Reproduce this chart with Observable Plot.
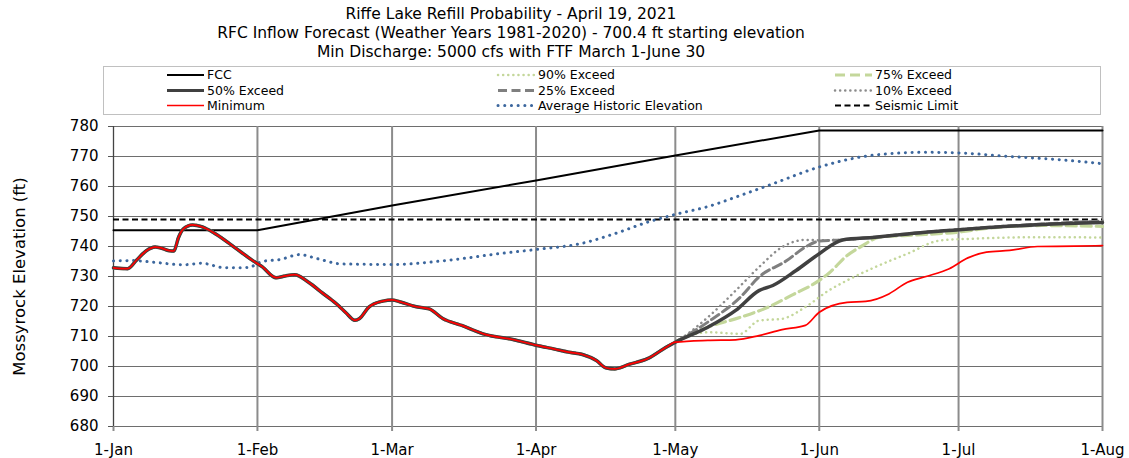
<!DOCTYPE html>
<html><head><meta charset="utf-8">
<script src="https://cdn.jsdelivr.net/npm/d3@7"></script>
<script src="https://cdn.jsdelivr.net/npm/@observablehq/plot@0.6"></script>
<style>
body{margin:0;background:#fff;font-family:"DejaVu Sans",Verdana,sans-serif;}
#wrap{position:relative;width:1129px;height:458px;overflow:hidden;background:#fff;}
#title{position:absolute;left:0;top:5px;width:1022px;text-align:center;font-size:15.5px;line-height:19px;color:#000;}
#legend{position:absolute;left:103px;top:66px;}
#chart{position:absolute;left:0;top:116px;}
</style></head><body>
<div id="wrap">
<div id="title"></div>
<svg id="legend" width="998" height="49"></svg>
<div id="chart"></div>
</div>
<script>
// ---------- text ----------
const titleLines = [
  "Riffe Lake Refill Probability - April 19, 2021",
  "RFC Inflow Forecast (Weather Years 1981-2020) - 700.4 ft starting elevation",
  "Min Discharge: 5000 cfs with FTF March 1-June 30"
];
const yAxisTitle = "Mossyrock Elevation (ft)";

// ---------- axes ----------
const xTickDates = ["2020-01-01","2020-02-01","2020-03-01","2020-04-01","2020-05-01","2020-06-01","2020-07-01","2020-08-01"];
const xTickLabels = ["1-Jan","1-Feb","1-Mar","1-Apr","1-May","1-Jun","1-Jul","1-Aug"];
const yTicks = [680,690,700,710,720,730,740,750,760,770,780];

// ---------- data ----------
const seismicLimit = 749;

const fccDates = ["2020-01-01","2020-02-01","2020-03-01","2020-04-01","2020-05-01","2020-06-01","2020-08-01"];
const fccValues = [745.4,745.4,753.7,762.0,770.3,778.7,778.7];

const avgDates = ["2020-01-01","2020-01-05","2020-01-10","2020-01-16","2020-01-20","2020-01-25","2020-01-30","2020-02-02","2020-02-06","2020-02-10","2020-02-14","2020-02-19","2020-03-01","2020-03-13","2020-03-24","2020-04-01","2020-04-11","2020-04-18","2020-04-25","2020-05-01","2020-05-08","2020-05-15","2020-05-22","2020-06-01","2020-06-13","2020-06-24","2020-07-01","2020-07-12","2020-07-23","2020-08-01"];
const avgValues = [735.2,735.3,734.7,733.9,734.4,732.9,733.0,735.0,735.7,737.3,735.9,734.2,734.0,735.4,737.6,739.0,741.1,744.3,748.1,750.7,753.3,757.0,760.9,766.5,770.5,771.4,771.2,770.0,768.9,767.6];

// observed history shared by every forecast trace (Jan 1 - May 1)
const histDates = ["2020-01-01","2020-01-04","2020-01-06","2020-01-08","2020-01-10","2020-01-11","2020-01-13","2020-01-14","2020-01-15","2020-01-16","2020-01-18","2020-01-20","2020-01-23","2020-01-27","2020-01-31","2020-02-02","2020-02-05","2020-02-07","2020-02-09","2020-02-12","2020-02-15","2020-02-18","2020-02-20","2020-02-22","2020-02-23","2020-02-25","2020-02-28","2020-03-01","2020-03-03","2020-03-06","2020-03-09","2020-03-12","2020-03-16","2020-03-21","2020-03-27","2020-04-01","2020-04-05","2020-04-08","2020-04-11","2020-04-14","2020-04-16","2020-04-18","2020-04-21","2020-04-25","2020-04-29"];
const histValues = [732.9,732.6,735.5,738.5,739.8,739.6,738.6,738.5,743.0,745.8,747.2,746.6,744.2,739.8,735.3,733.3,729.6,730.2,730.6,728.1,724.5,720.9,718.0,715.4,716.0,719.8,721.8,722.2,721.4,720.0,719.2,715.9,713.7,710.7,709.0,707.1,705.8,704.8,704.0,702.0,699.6,699.2,700.7,702.6,706.4];

const minDates = ["2020-05-01","2020-05-08","2020-05-14","2020-05-19","2020-05-24","2020-05-29","2020-06-01","2020-06-07","2020-06-11","2020-06-16","2020-06-20","2020-06-24","2020-06-29","2020-07-03","2020-07-07","2020-07-12","2020-07-18","2020-07-26","2020-08-01"];
const minValues = [708.1,708.7,708.9,710.3,712.3,713.7,718.1,721.4,721.7,724.2,728.1,730.0,732.6,736.2,738.1,738.7,740.0,740.1,740.3];

const p90Dates = ["2020-05-01","2020-05-08","2020-05-15","2020-05-19","2020-05-24","2020-05-29","2020-06-03","2020-06-07","2020-06-13","2020-06-20","2020-06-27","2020-07-04","2020-07-19","2020-08-01"];
const p90Values = [708.1,711.4,710.9,715.3,715.9,719.8,725.3,728.7,733.1,737.6,742.0,742.6,743.1,743.0];

const p75Dates = ["2020-05-01","2020-05-08","2020-05-15","2020-05-21","2020-05-26","2020-06-01","2020-06-03","2020-06-07","2020-06-10","2020-06-14","2020-06-20","2020-07-01","2020-07-08","2020-07-19","2020-08-01"];
const p75Values = [708.1,713.1,716.4,719.8,723.7,728.7,731.0,737.0,740.0,743.1,743.7,744.8,746.2,747.0,746.7];

const p50Dates = ["2020-05-01","2020-05-08","2020-05-14","2020-05-19","2020-05-22","2020-05-27","2020-06-01","2020-06-06","2020-06-13","2020-06-20","2020-07-04","2020-07-19","2020-08-01"];
const p50Values = [708.1,713.1,718.7,725.3,727.0,732.0,737.6,742.2,743.1,744.2,745.9,747.3,748.0];

const p25Dates = ["2020-05-01","2020-05-08","2020-05-15","2020-05-19","2020-05-25","2020-05-29","2020-06-01","2020-06-06","2020-06-13","2020-06-20","2020-07-04","2020-07-19","2020-08-01"];
const p25Values = [708.1,714.8,723.1,729.8,735.3,739.8,741.8,742.2,743.1,744.2,746.0,747.5,748.5];

const p10Dates = ["2020-05-01","2020-05-08","2020-05-14","2020-05-19","2020-05-24","2020-05-29","2020-06-01","2020-06-06","2020-06-13","2020-06-20","2020-07-04","2020-07-19","2020-08-01"];
const p10Values = [708.1,716.4,725.3,733.1,739.8,742.2,742.1,742.2,743.1,744.2,746.0,747.5,748.4];

// ---------- build ----------
const parse = d3.utcParse("%Y-%m-%d");
const rows = (dates, vals) => dates.map((d, i) => ({date: parse(d), value: vals[i]}));
const hist = rows(histDates, histValues);
const withHist = (dates, vals) => hist.concat(rows(dates, vals));
const xTicks = xTickDates.map(parse);
const fmtX = d => xTickLabels[xTicks.findIndex(t => +t === +d)];

const styles = {
  fcc:  {stroke: "#000000", strokeWidth: 2},
  p50:  {stroke: "#404040", strokeWidth: 3.5},
  min:  {stroke: "#ff0000", strokeWidth: 1.7},
  p90:  {stroke: "#c4d79b", strokeWidth: 2.5, strokeDasharray: "0.1 5", strokeLinecap: "round"},
  p25:  {stroke: "#7f7f7f", strokeWidth: 3, strokeDasharray: "9 4.5"},
  avg:  {stroke: "#3c679e", strokeWidth: 3, strokeDasharray: "0.1 6.6", strokeLinecap: "round"},
  p75:  {stroke: "#c4d79b", strokeWidth: 3.2, strokeDasharray: "10 5"},
  p10:  {stroke: "#8c8c8c", strokeWidth: 2.5, strokeDasharray: "0.1 5", strokeLinecap: "round"},
  seis: {stroke: "#000000", strokeWidth: 1.8, strokeDasharray: "6 3.5"}
};

// title
document.getElementById("title").innerHTML = titleLines.map(t => `<div>${t}</div>`).join("");

// legend
const legendItems = [
  ["fcc","FCC",0,0],["p50","50% Exceed",0,1],["min","Minimum",0,2],
  ["p90","90% Exceed",1,0],["p25","25% Exceed",1,1],["avg","Average Historic Elevation",1,2],
  ["p75","75% Exceed",2,0],["p10","10% Exceed",2,1],["seis","Seismic Limit",2,2]
];
const colX = [64, 395, 732];
const rowY = [9, 24.5, 39.5];
const lg = d3.select("#legend");
lg.append("rect").attr("x",0.5).attr("y",0.5).attr("width",997).attr("height",48)
  .attr("fill","#fff").attr("stroke","#c0c0c0");
for (const [k, label, c, r] of legendItems) {
  const s = styles[k];
  lg.append("line").attr("x1", colX[c]).attr("x2", colX[c] + 37).attr("y1", rowY[r]).attr("y2", rowY[r])
    .attr("stroke", s.stroke).attr("stroke-width", Math.min(s.strokeWidth, 3))
    .attr("stroke-dasharray", s.strokeDasharray || null).attr("stroke-linecap", s.strokeLinecap || null);
  lg.append("text").attr("x", colX[c] + 40).attr("y", rowY[r]).attr("dy","0.35em")
    .attr("font-size", 12.5).attr("fill","#000").text(label);
}

const line = (data, k, extra = {}) => Plot.line(data, {x: "date", y: "value", ...styles[k], curve: "monotone-x", ...extra});

const chart = Plot.plot({
  width: 1129, height: 342,
  marginTop: 10, marginBottom: 32, marginLeft: 113, marginRight: 27,
  style: {fontFamily: "'DejaVu Sans', Verdana, sans-serif", fontSize: "15px", color: "#000", background: "#fff", overflow: "visible"},
  x: {type: "utc", domain: [xTicks[0], xTicks[xTicks.length - 1]]},
  y: {domain: [680, 780]},
  marks: [
    Plot.gridY(yTicks, {stroke: "#6e6e6e", strokeOpacity: 1, strokeWidth: 1.2}),
    Plot.gridX(xTicks.slice(1), {stroke: "#8c8c8c", strokeOpacity: 1, strokeWidth: 2}),
    Plot.axisX(xTicks, {tickSize: 5, tickPadding: 13, tickFormat: fmtX, stroke: "#8c8c8c", strokeWidth: 2, fontSize: 15, label: null}),
    Plot.axisY(yTicks, {tickSize: 5, tickPadding: 10, stroke: "#555", fontSize: 15, label: null}),
    Plot.ruleX([xTicks[0]], {stroke: "#444", strokeWidth: 1.3}),
    Plot.ruleY([seismicLimit], styles.seis),
    line(rows(fccDates, fccValues), "fcc", {curve: "linear"}),
    line(rows(avgDates, avgValues), "avg"),
    line(withHist(p90Dates, p90Values), "p90"),
    line(withHist(p10Dates, p10Values), "p10"),
    line(withHist(p75Dates, p75Values), "p75"),
    line(withHist(p25Dates, p25Values), "p25"),
    line(withHist(p50Dates, p50Values), "p50"),
    line(withHist(minDates, minValues), "min"),
    Plot.text([yAxisTitle], {frameAnchor: "left", textAnchor: "middle", lineAnchor: "middle", rotate: -90, dx: -94, fontSize: 16.5, fill: "#000"})
  ]
});
document.getElementById("chart").appendChild(chart);
</script>
</body></html>
